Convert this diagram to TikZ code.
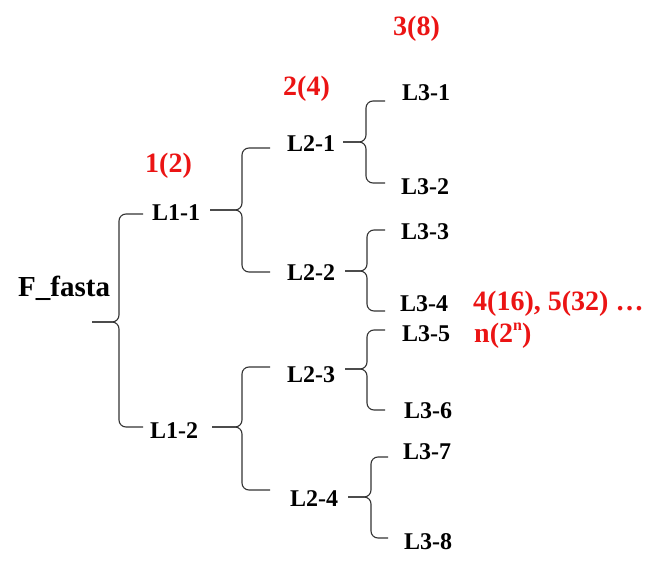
\documentclass[tikz,border=0pt]{standalone}
\usepackage{fontspec}
\setmainfont{Liberation Serif}
\begin{document}
\begin{tikzpicture}[x=1pt,y=-1pt,
  lbl/.style={anchor=base west,inner sep=0pt,font=\fontsize{24}{24}\selectfont\bfseries},
  root/.style={anchor=base west,inner sep=0pt,font=\fontsize{29}{29}\selectfont\bfseries},
  cnt/.style={anchor=base west,inner sep=0pt,text={rgb,255:red,235;green,20;blue,20},font=\fontsize{28}{28}\selectfont\bfseries},
  br/.style={draw=black!80,line width=1.1pt,rounded corners=7pt}]
\useasboundingbox (0,0) rectangle (669,572);
% nodes
\node[root] (F) at (18,296) {F\_fasta};
\node[lbl] (L11) at (152,221) {L1-1};
\node[lbl] (L12) at (150,438) {L1-2};
\node[lbl] (L21) at (287,152) {L2-1};
\node[lbl] (L22) at (287,280) {L2-2};
\node[lbl] (L23) at (287,382) {L2-3};
\node[lbl] (L24) at (290,506) {L2-4};
\node[lbl] (L31) at (402,101) {L3-1};
\node[lbl] (L32) at (401,195) {L3-2};
\node[lbl] (L33) at (401,240) {L3-3};
\node[lbl] (L34) at (400,311) {L3-4};
\node[lbl] (L35) at (402,341) {L3-5};
\node[lbl] (L36) at (404,418) {L3-6};
\node[lbl] (L37) at (403,459) {L3-7};
\node[lbl] (L38) at (404,549) {L3-8};
% counts
\node[cnt] (c1) at (145,173) {1(2)};
\node[cnt] (c2) at (283,96) {2(4)};
\node[cnt] (c3) at (393,36) {3(8)};
\node[cnt] (c4) at (473,310) {4(16), 5(32) …};
\node[cnt] (c5) at (474,342) {n(2\raisebox{0.42em}{\fontsize{16}{16}\selectfont n})};
% braces: tip, vertical x, top y, bottom y, right x
\newcommand{\brc}[7]{%
  \coordinate (#1t) at (#2,#3);
  \coordinate (#1a) at (#7,#5);
  \coordinate (#1b) at (#7,#6);
  \draw[br] (#1t) -- (#4,#3) -- (#4,#5) -- (#1a);
  \draw[br] (#1t) -- (#4,#3) -- (#4,#6) -- (#1b);}
\brc{b1}{92}{322}{119}{214}{427}{143}
\brc{b2}{210}{210}{242}{148}{272}{270}
\brc{b3}{343}{142}{366}{101}{183}{385}
\brc{b4}{345}{271}{367}{230}{311}{385}
\brc{b5}{212}{427}{242}{367}{490}{270}
\brc{b6}{345}{369}{367}{330}{410}{385}
\brc{b7}{348}{497}{371}{457}{538}{388}
\end{tikzpicture}
\end{document}
